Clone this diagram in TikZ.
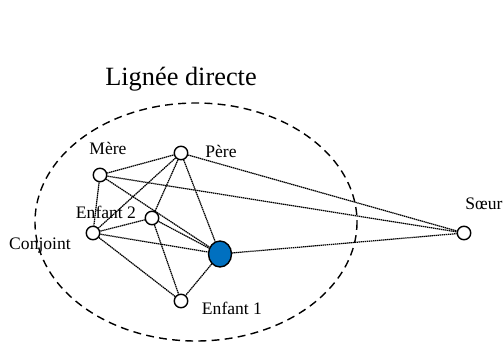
\documentclass[tikz,border=0pt]{standalone}
\usepackage{fontspec}
\setmainfont{Liberation Serif}
\usetikzlibrary{shapes.geometric}

\definecolor{egoblue}{HTML}{0070C0}

\begin{document}
\begin{tikzpicture}[x=0.02cm, y=-0.02cm,
    member/.style={circle, draw, fill=white, line width=0.8pt, inner sep=0pt, minimum size=0.27cm},
    ego/.style={ellipse, draw, fill=egoblue, line width=0.8pt, inner sep=0pt, minimum width=0.46cm, minimum height=0.52cm},
    link/.style={line width=0.7pt, dash pattern=on 0.8pt off 0.35pt},
    tag/.style={inner sep=0pt, font=\fontsize{10}{12}\selectfont}]
  \useasboundingbox (0,0) rectangle (504,345);
  % lignee directe
  \draw[line width=0.8pt, dash pattern=on 4.5pt off 3pt] (196,222) ellipse [x radius=161, y radius=119];
  \node[inner sep=0pt, font=\fontsize{15}{18}\selectfont] (titre) at (181,79) {Lignée directe};
  % membres
  \node[member] (mere) at (100,175) {};
  \node[member] (pere) at (181,153) {};
  \node[member] (enf2) at (152,218) {};
  \node[member] (conj) at (93,233) {};
  \node[ego]    (ego)  at (220,254) {};
  \node[member] (enf1) at (181,301) {};
  \node[member] (soeur) at (464,233) {};
  % liens
  \foreach \a/\b in {mere/pere, mere/conj, mere/ego, mere/soeur,
                     pere/conj, pere/enf2, pere/ego, pere/soeur,
                     enf2/conj, enf2/ego, enf2/enf1,
                     conj/ego, conj/enf1, ego/enf1, ego/soeur}
    \draw[link] (\a) -- (\b);
  % noms
  \node[tag] (lmere) at (108,148) {Mère};
  \node[tag] (lpere) at (221,151) {Père};
  \node[tag] (lenf2) at (106,212) {Enfant 2};
  \node[tag] (lconj) at (40,246) {Conjoint};
  \node[tag] (lenf1) at (232,308) {Enfant 1};
  \node[tag] (lsoeur) at (484,204) {Sœur};
\end{tikzpicture}
\end{document}
